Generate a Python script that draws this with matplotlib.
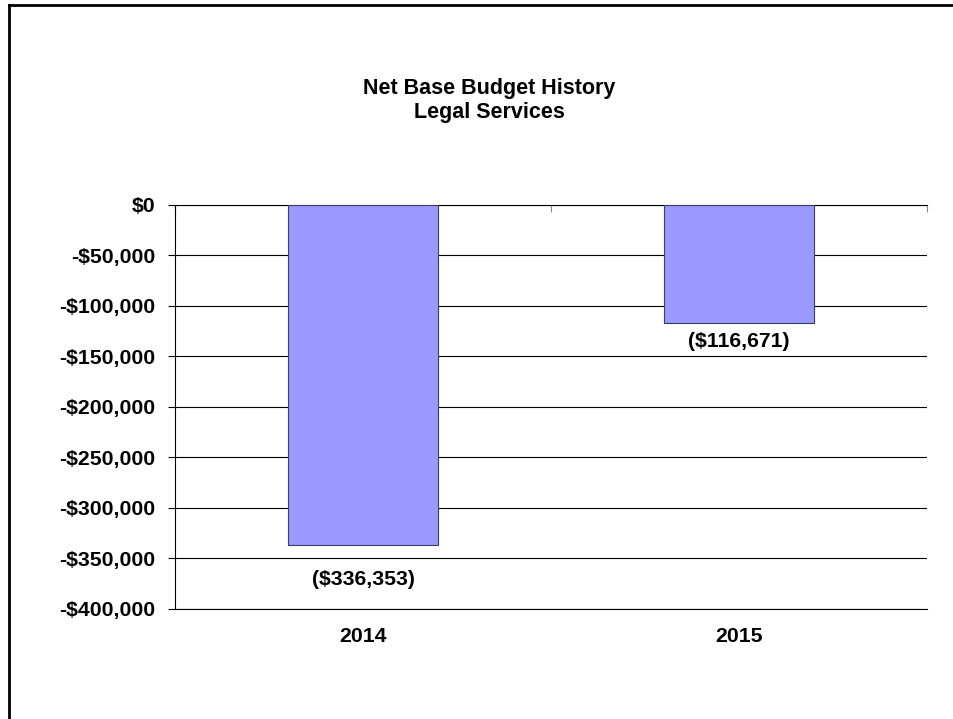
import matplotlib
matplotlib.use("Agg")
import matplotlib.pyplot as plt
from matplotlib.lines import Line2D
from matplotlib.ticker import FixedLocator, FuncFormatter, MultipleLocator

plt.rcParams['font.family'] = ['Liberation Sans', 'DejaVu Sans']
plt.rcParams['font.weight'] = 'bold'

years = ['2014', '2015']
net_budget = [-336353, -116671]

title = "Net Base Budget History\nLegal Services"


def money_tick(v, pos):
    if v == 0:
        return "$0"
    return "-${:,.0f}".format(abs(v))


def money_label(v):
    return "(${:,.0f})".format(abs(v))


fig = plt.figure(figsize=(9.54, 7.19), dpi=100)
ax = fig.add_axes([0.1834, 0.1530, 0.7883, 0.5619])

x = range(len(years))
bars = ax.bar(x, net_budget, width=0.4, color='#9999FF',
              edgecolor='#3c3c66', linewidth=0.8, zorder=3)

ax.set_xlim(-0.5, len(years) - 0.5)
ax.set_ylim(-400000, 0)
ax.yaxis.set_major_locator(MultipleLocator(50000))
ax.yaxis.set_major_formatter(FuncFormatter(money_tick))
ax.grid(axis='y', color='black', linewidth=0.8, zorder=0)

ax.set_xticks(list(x))
ax.set_xticklabels(years)
ax.tick_params(axis='x', which='major', length=0, pad=13, labelsize=15.3)
ax.xaxis.set_minor_locator(FixedLocator([-0.5 + i for i in range(len(years) + 1)]))
ax.tick_params(axis='x', which='minor', bottom=False, top=True,
               direction='in', length=5, width=0.8, color='#888888')
ax.tick_params(axis='y', length=5, width=0.8, pad=9, labelsize=15.3)

ax.spines['right'].set_visible(False)
for side in ['left', 'top', 'bottom']:
    ax.spines[side].set_linewidth(0.8)

# value labels under each bar end
label_pad = [35, 19]
for rect, v, pad in zip(bars, net_budget, label_pad):
    ax.annotate(money_label(v), (rect.get_x() + rect.get_width() / 2, v),
                xytext=(0, -pad * 0.72), textcoords='offset points',
                ha='center', va='center', fontsize=15.3, fontweight='bold')

fig.text(489 / 954, 1 - 100.5 / 719, title, ha='center', va='center',
         fontsize=15.5, fontweight='bold', linespacing=1.2)

# chart border (top and left edges)
x0, y0 = 9.3 / 954, 1 - 5.3 / 719
fig.add_artist(Line2D([x0, x0], [0, y0], color='black', linewidth=2))
fig.add_artist(Line2D([x0, 1], [y0, y0], color='black', linewidth=2))

fig.savefig('out.png', dpi=100)
